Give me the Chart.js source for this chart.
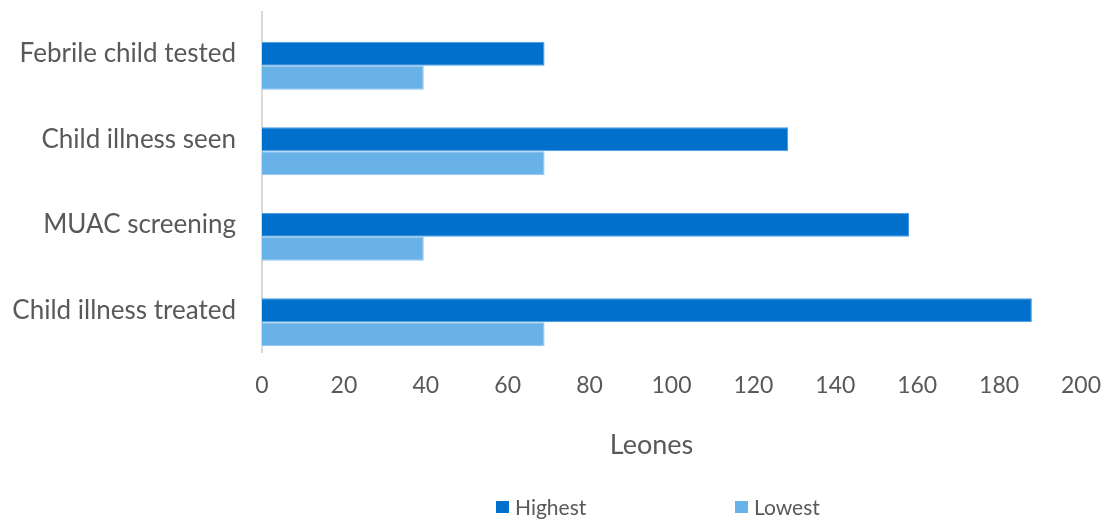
<!DOCTYPE html>
<html>
<head>
<meta charset="utf-8">
<script src="https://cdn.jsdelivr.net/npm/chart.js@4.4.1/dist/chart.umd.min.js"></script>
<style>
  html, body { margin: 0; padding: 0; background: #fff; }
  #wrap { width: 1106px; height: 519px; position: relative; }
</style>
</head>
<body>
<div id="wrap"><canvas id="chart"></canvas></div>
<script>
const categories = ['Febrile child tested', 'Child illness seen', 'MUAC screening', 'Child illness treated'];
const highest = [69, 128.5, 158, 188];
const lowest = [39.5, 69, 39.5, 69];
const xTicks = [0, 20, 40, 60, 80, 100, 120, 140, 160, 180, 200];
const xTitle = 'Leones';

const FONT = 'Lato, "Open Sans", sans-serif';
const TEXT = '#595959';
const DARK = '#0070CC';
const LIGHT = '#69B2E8';

// vertical category axis line
const axisLine = {
  id: 'axisLine',
  beforeDatasetsDraw(chart) {
    const { ctx, chartArea } = chart;
    ctx.save();
    ctx.strokeStyle = '#D9D9D9';
    ctx.lineWidth = 2;
    ctx.beginPath();
    ctx.moveTo(chartArea.left, chartArea.top);
    ctx.lineTo(chartArea.left, chartArea.bottom);
    ctx.stroke();
    ctx.restore();
  }
};

// axis title and a legend with wide spacing, both a little left of the plot centre
const footer = {
  id: 'footer',
  afterDraw(chart) {
    const { ctx, chartArea } = chart;
    const mid = (chartArea.left + chartArea.right) / 2;
    ctx.save();
    ctx.fillStyle = TEXT;
    ctx.font = '27px ' + FONT;
    ctx.textAlign = 'center';
    ctx.textBaseline = 'middle';
    ctx.fillText(xTitle, mid - 20, 445);

    const items = chart.data.datasets.filter(d => d.label);
    let x = mid - 175.5;
    const y = 507;
    ctx.font = '21px ' + FONT;
    ctx.textAlign = 'left';
    items.forEach(d => {
      ctx.fillStyle = d.backgroundColor;
      ctx.fillRect(x, y - 6, 13, 12);
      ctx.fillStyle = TEXT;
      ctx.fillText(d.label, x + 19, y + 1);
      x += 239;
    });
    ctx.restore();
  }
};

new Chart(document.getElementById('chart'), {
  type: 'bar',
  data: {
    labels: categories,
    datasets: [
      // empty spacer so the pair of bars sits below the label line
      { label: '', data: categories.map(() => null) },
      { label: 'Highest', data: highest, backgroundColor: DARK, borderColor: '#4A9BE0', borderWidth: 1 },
      { label: 'Lowest', data: lowest, backgroundColor: LIGHT, borderColor: '#8EC5EE', borderWidth: 1 }
    ]
  },
  options: {
    indexAxis: 'y',
    responsive: true,
    maintainAspectRatio: false,
    animation: false,
    categoryPercentage: 0.842,
    barPercentage: 1,
    layout: { padding: { top: 11, right: 25, bottom: 57.8, left: 0 } },
    plugins: {
      legend: { display: false },
      tooltip: { enabled: false }
    },
    scales: {
      y: {
        grid: { display: false, drawTicks: true, tickLength: 26 },
        border: { display: false },
        ticks: { color: TEXT, font: { family: FONT, size: 26, lineHeight: 0.8 }, padding: 0 },
        afterFit(scale) { scale.width = 262; }
      },
      x: {
        min: 0,
        max: 200,
        grid: { display: false, drawTicks: true, tickLength: 19 },
        border: { display: false },
        afterBuildTicks(scale) { scale.ticks = xTicks.map(v => ({ value: v })); },
        ticks: { color: TEXT, font: { family: FONT, size: 23 }, padding: 0, maxRotation: 0 },
        afterFit(scale) { scale.height = 108.2; }
      }
    }
  },
  plugins: [axisLine, footer]
});
</script>
</body>
</html>
